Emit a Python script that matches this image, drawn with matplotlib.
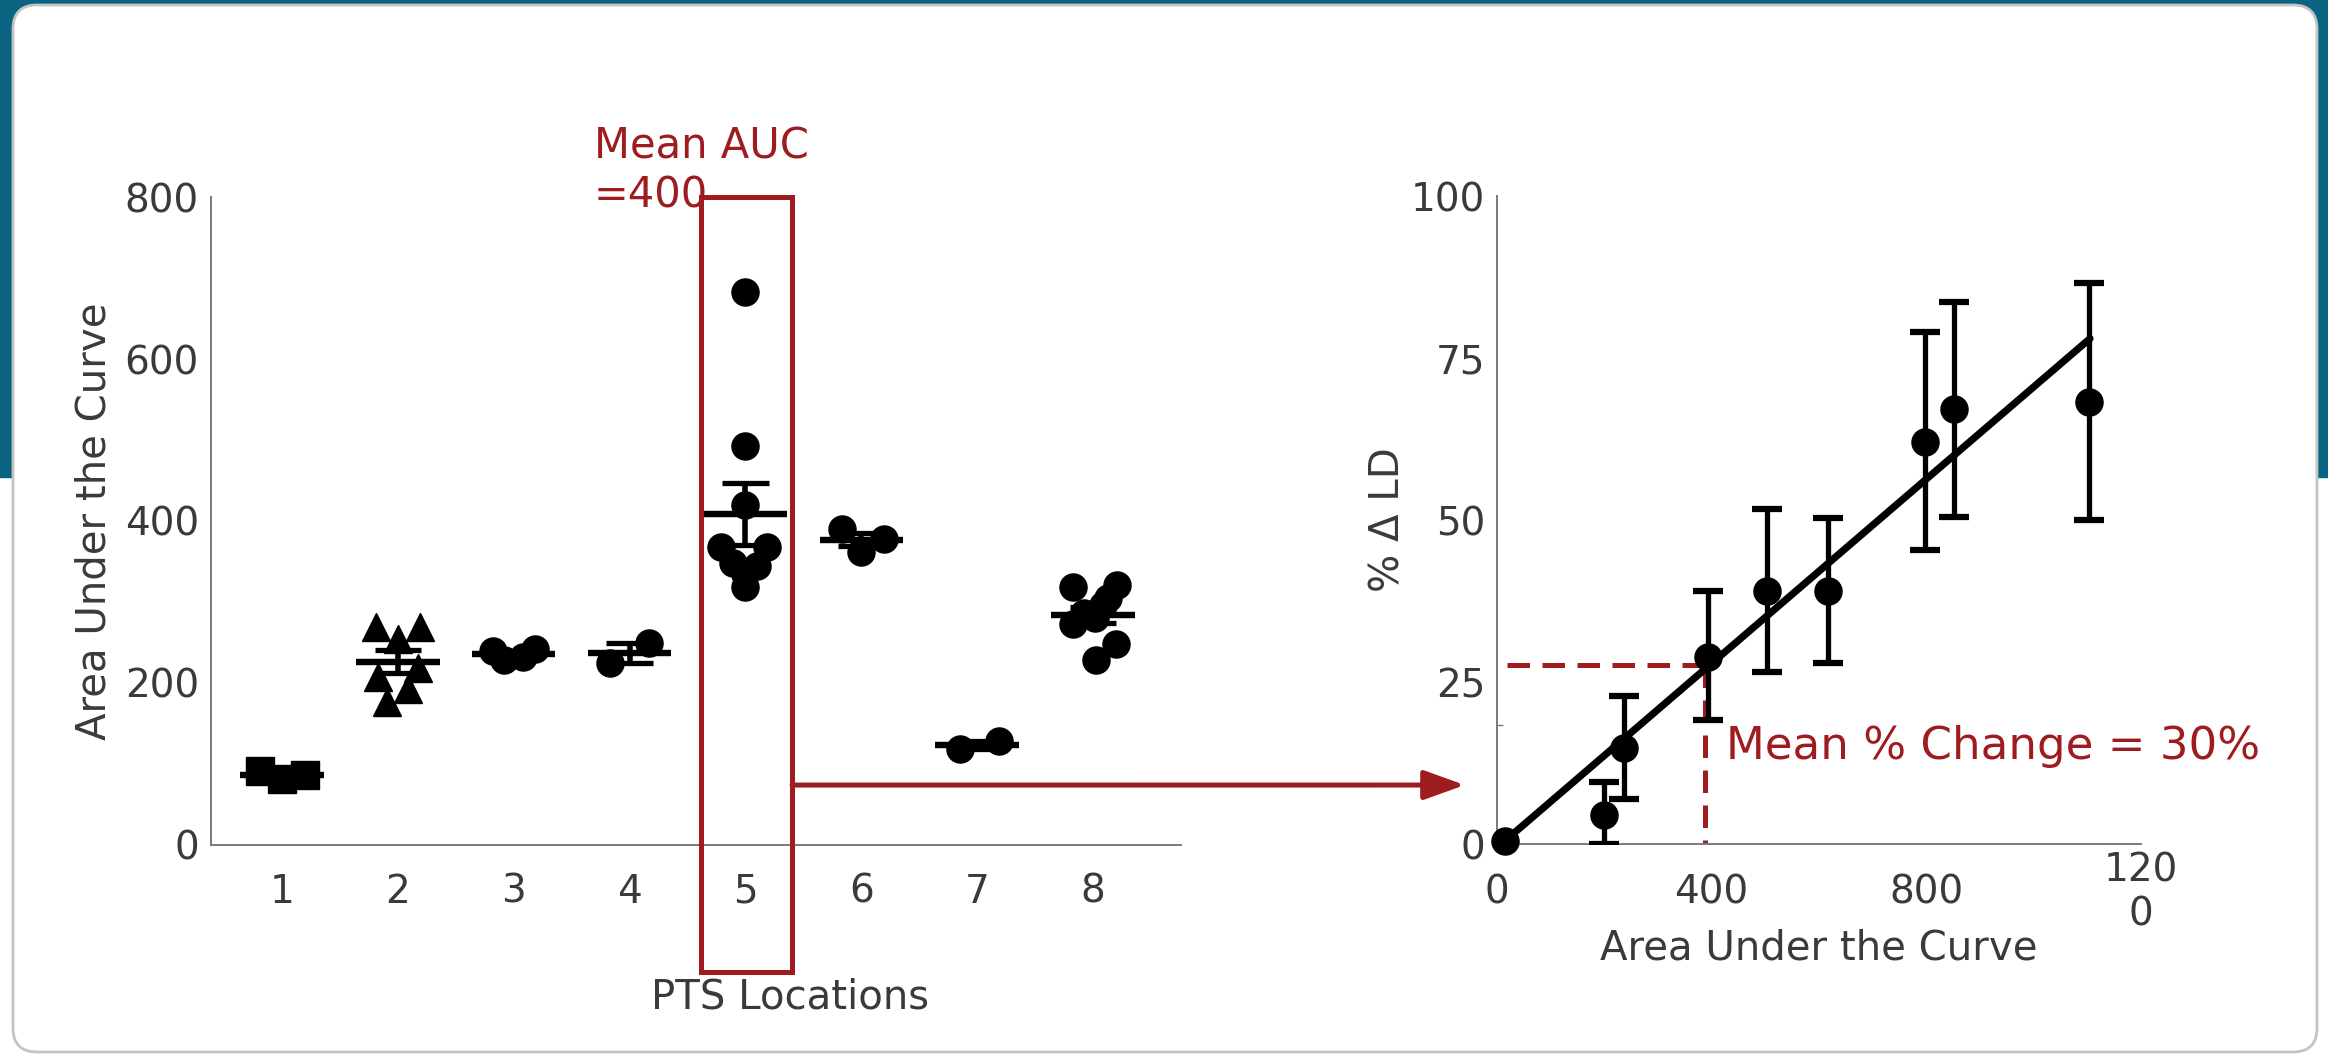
import matplotlib.pyplot as plt
import matplotlib.patches as mpatches
from matplotlib.transforms import IdentityTransform
import numpy as np

plt.rcParams["font.family"] = ["DejaVu Sans"]

TEAL = "#0b6382"
RED = "#9e1b20"
INK = "#3a3a3a"
SPINE = "#7a7a7a"

# AUC per PTS location (left panel)
locations = [1, 2, 3, 4, 5, 6, 7, 8]
auc_groups = [
    [91, 82, 86],
    [269, 269, 254, 207, 218, 192, 176],
    [240, 228, 232, 242],
    [225, 250],
    [683, 492, 420, 368, 368, 348, 345, 335, 319],
    [390, 362, 378],
    [118, 128],
    [318, 321, 305, 296, 273, 287, 280, 248, 228],
]
# horizontal spread of the points inside each location
auc_offsets = [
    [-0.19, 0.0, 0.2],
    [-0.19, 0.19, 0.0, -0.17, 0.17, 0.09, -0.09],
    [-0.18, -0.08, 0.08, 0.18],
    [-0.17, 0.17],
    [0.0, 0.0, 0.0, -0.21, 0.19, -0.11, 0.1, 0.0, 0.0],
    [-0.17, 0.0, 0.2],
    [-0.15, 0.19],
    [-0.17, 0.21, 0.13, 0.09, -0.17, -0.08, 0.02, 0.2, 0.03],
]
group_markers = ["s", "^", "o", "o", "o", "o", "o", "o"]

# % change in LD vs AUC (right panel)
auc_means = [15, 199, 236, 394, 503, 617, 797, 852, 1104]
ld_change = [0.5, 4.5, 14.8, 28.8, 39, 39, 62, 67.2, 68.2]
ld_low = [0.5, 0, 6.9, 19.1, 26.5, 28, 45.4, 50.5, 50]
ld_high = [0.5, 9.5, 22.8, 39, 51.7, 50.3, 79, 83.7, 86.5]
fit_x = [15, 1105]
fit_y = [0.5, 78]

W, H = 2328, 1054
fig = plt.figure(figsize=(W / 100, H / 100), dpi=100)
fig.patch.set_facecolor("white")

# teal band and the white card
fig.add_artist(mpatches.Rectangle((0, 1 - 477 / H), 1, 477 / H, transform=fig.transFigure,
                                  color=TEAL, zorder=-10))
fig.add_artist(mpatches.FancyBboxPatch((13, 2), 2304, 1047,
                                       boxstyle="round,pad=0,rounding_size=24",
                                       transform=IdentityTransform(), fc="white",
                                       ec="#c4c4c4", lw=2, zorder=-9))

ax1 = fig.add_axes([211 / W, 209 / H, 970 / W, 648 / H])
ax2 = fig.add_axes([1497 / W, 210 / H, 644 / W, 648 / H])
for ax in (ax1, ax2):
    ax.set_facecolor("none")
    ax.spines[["top", "right"]].set_visible(False)
    ax.spines[["left", "bottom"]].set_color(SPINE)
    ax.spines[["left", "bottom"]].set_linewidth(1.4)
    ax.tick_params(length=0, labelsize=28, labelcolor=INK)
    ax.tick_params(axis="y", pad=8.6)

# scatter with mean +/- SEM for each location
for loc, vals, offs, m in zip(locations, auc_groups, auc_offsets, group_markers):
    vals = np.array(vals)
    mean = vals.mean()
    sem = vals.std(ddof=1) / np.sqrt(len(vals))
    ax1.plot(loc + np.array(offs), vals, m, color="black", ms=19.5, ls="none", zorder=3)
    ax1.hlines(mean, loc - 0.36, loc + 0.36, color="black", lw=4.6, zorder=4)
    ax1.vlines(loc, mean - sem, mean + sem, color="black", lw=4, zorder=4)
    ax1.hlines([mean - sem, mean + sem], loc - 0.2, loc + 0.2, color="black", lw=3.8, zorder=4)

ax1.set_xlim(0.387, 8.76)
ax1.set_ylim(0, 800)
ax1.set_xticks(locations)
ax1.set_yticks([0, 200, 400, 600, 800])
ax1.tick_params(axis="x", pad=20)
ax1.set_ylabel("Area Under the Curve", fontsize=29, color=INK, va="center")
ax1.yaxis.set_label_coords(-0.1196, 0.5)
ax1.set_xlabel("PTS Locations", fontsize=29, color=INK, va="center")
ax1.xaxis.set_label_coords(0.597, -0.236)

# highlight location 5
ax1.add_patch(mpatches.Rectangle((4.616, -157), 0.787, 957, fill=False, ec=RED, lw=3.6,
                                 clip_on=False, zorder=5))
ax1.text(3.694, 776, "Mean AUC\n=400", color=RED, fontsize=30, ha="left", va="bottom")

# right panel
ld_change = np.array(ld_change)
yerr = [ld_change[1:] - np.array(ld_low[1:]), np.array(ld_high[1:]) - ld_change[1:]]
eb = ax2.errorbar(auc_means[1:], ld_change[1:], yerr=yerr, fmt="none", ecolor="black",
                  elinewidth=3.8, capsize=11, capthick=4.5, zorder=3)
ax2.plot(fit_x, fit_y, color="black", lw=5.2, solid_capstyle="round", zorder=4)
ax2.plot(auc_means, ld_change, "o", color="black", ms=19.5, clip_on=False, zorder=5)

ax2.plot([18, 391], [27.7, 27.7], color=RED, lw=3.6, dashes=(4.5, 2.5), zorder=2)
ax2.plot([388, 388], [27.7, 0], color=RED, lw=3.6, dashes=(4.5, 2.5), zorder=2)
ax2.text(426, 13.1, "Mean % Change = 30%", color=RED, fontsize=32.5, ha="left", va="baseline")

ax2.set_xlim(0, 1200)
ax2.set_ylim(0, 100)
ax2.set_yticks([0, 25, 50, 75, 100])
ax2.set_xticks([0, 400, 800, 1200], ["0", "400", "800", "120\n0"])
for lab in ax2.get_xticklabels():
    lab.set_va("center")
ax2.tick_params(axis="x", pad=34.6)
ax2.set_yticks([18.3], minor=True)
ax2.tick_params(axis="y", which="minor", direction="in", length=4, width=1, color=SPINE)
ax2.set_ylabel("% Δ LD", fontsize=29, color=INK, va="center")
ax2.yaxis.set_label_coords(-0.169, 0.5)
ax2.set_xlabel("Area Under the Curve", fontsize=29, color=INK, va="center")
ax2.xaxis.set_label_coords(0.5, -0.162)

# arrow from the highlighted location to the regression panel
ax2.annotate("", xy=(-60, 9.1), xycoords="data", xytext=(5.403, 74),
             textcoords=ax1.transData, annotation_clip=False,
             arrowprops=dict(arrowstyle="-|>,head_length=1.25,head_width=0.45", color=RED,
                             lw=3.6, shrinkA=0, shrinkB=0, mutation_scale=20))

fig.savefig("out.png", dpi=100)
